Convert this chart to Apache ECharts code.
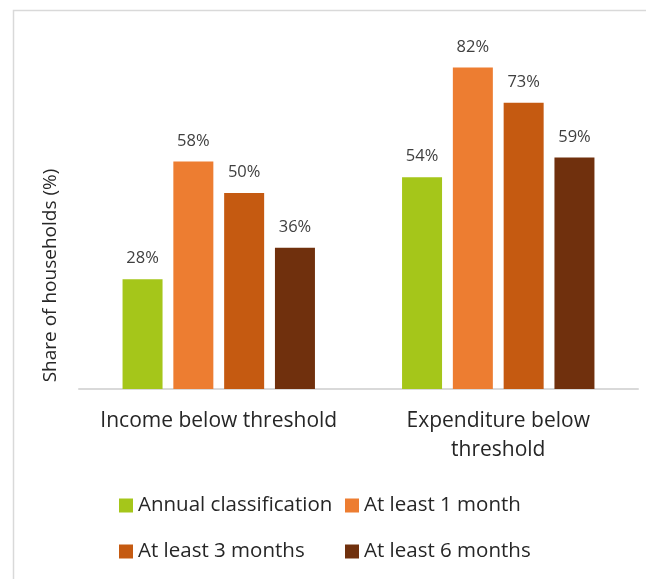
<!DOCTYPE html>
<html>
<head>
<meta charset="utf-8">
<script src="https://cdn.jsdelivr.net/npm/echarts@6/dist/echarts.min.js"></script>
<style>
html,body{margin:0;padding:0;background:#fff;}
#c{width:646px;height:579px;}
</style>
</head>
<body>
<div id="c"></div>
<script>
const categories = ["Income below threshold", "Expenditure below threshold"];
const seriesNames = ["Annual classification", "At least 1 month", "At least 3 months", "At least 6 months"];
const annual = [28, 54];
const month1 = [58, 82];
const month3 = [50, 73];
const month6 = [36, 59];
const colors = ["#A5C61A", "#ED7D31", "#C55A11", "#70300D"];

const FONT = "Open Sans";
const values = [annual, month1, month3, month6];

const chart = echarts.init(document.getElementById('c'), null, {renderer: 'canvas'});
const series = seriesNames.map((n, i) => ({
  name: n,
  type: 'bar',
  data: values[i],
  barWidth: 40,
  barGap: '27%',
  itemStyle: {color: colors[i]},
  label: {
    show: true,
    position: 'top',
    distance: 12,
    formatter: '{c}%',
    fontFamily: FONT,
    fontSize: 16.5,
    color: '#404040'
  }
}));

function legendAt(name, left, top) {
  return {
    data: [name],
    left: left,
    top: top,
    icon: 'rect',
    itemWidth: 14,
    itemHeight: 14,
    itemGap: 0,
    textStyle: {fontFamily: FONT, fontSize: 20.5, color: '#262626'},
  };
}

chart.setOption({
  animation: false,
  backgroundColor: '#fff',
  graphic: [{
    type: 'rect',
    left: 11, top: 8,
    shape: {width: 700, height: 700},
    style: {fill: 'none', stroke: '#d9d9d9', lineWidth: 1.5},
    silent: true
  }],
  grid: {left: 79, right: 8, top: 36, bottom: 190, containLabel: false},
  legend: [
    legendAt(seriesNames[0], 114, 490),
    legendAt(seriesNames[1], 340, 490),
    legendAt(seriesNames[2], 114, 536),
    legendAt(seriesNames[3], 340, 536)
  ],
  xAxis: {
    type: 'category',
    data: categories,
    axisLine: {lineStyle: {color: '#d9d9d9', width: 2}},
    axisTick: {show: false},
    axisLabel: {
      interval: 0,
      hideOverlap: false,
      fontFamily: FONT,
      fontSize: 21,
      color: '#262626',
      margin: 18,
      lineHeight: 29,
      formatter: function (v) {
        if (v.length > 24) {
          const i = v.lastIndexOf(' ');
          return v.slice(0, i) + '\n' + v.slice(i + 1);
        }
        return v;
      }
    }
  },
  yAxis: {
    type: 'value',
    min: 0,
    max: 90,
    interval: 10,
    name: 'Share of households (%)',
    nameLocation: 'middle',
    nameGap: 19,
    nameTextStyle: {fontFamily: FONT, fontSize: 19, color: '#262626', padding: [0, 126, 0, 0]},
    axisLine: {show: false},
    axisTick: {show: false},
    axisLabel: {show: false},
    splitLine: {show: false}
  },
  series: series
});
</script>
</body>
</html>
